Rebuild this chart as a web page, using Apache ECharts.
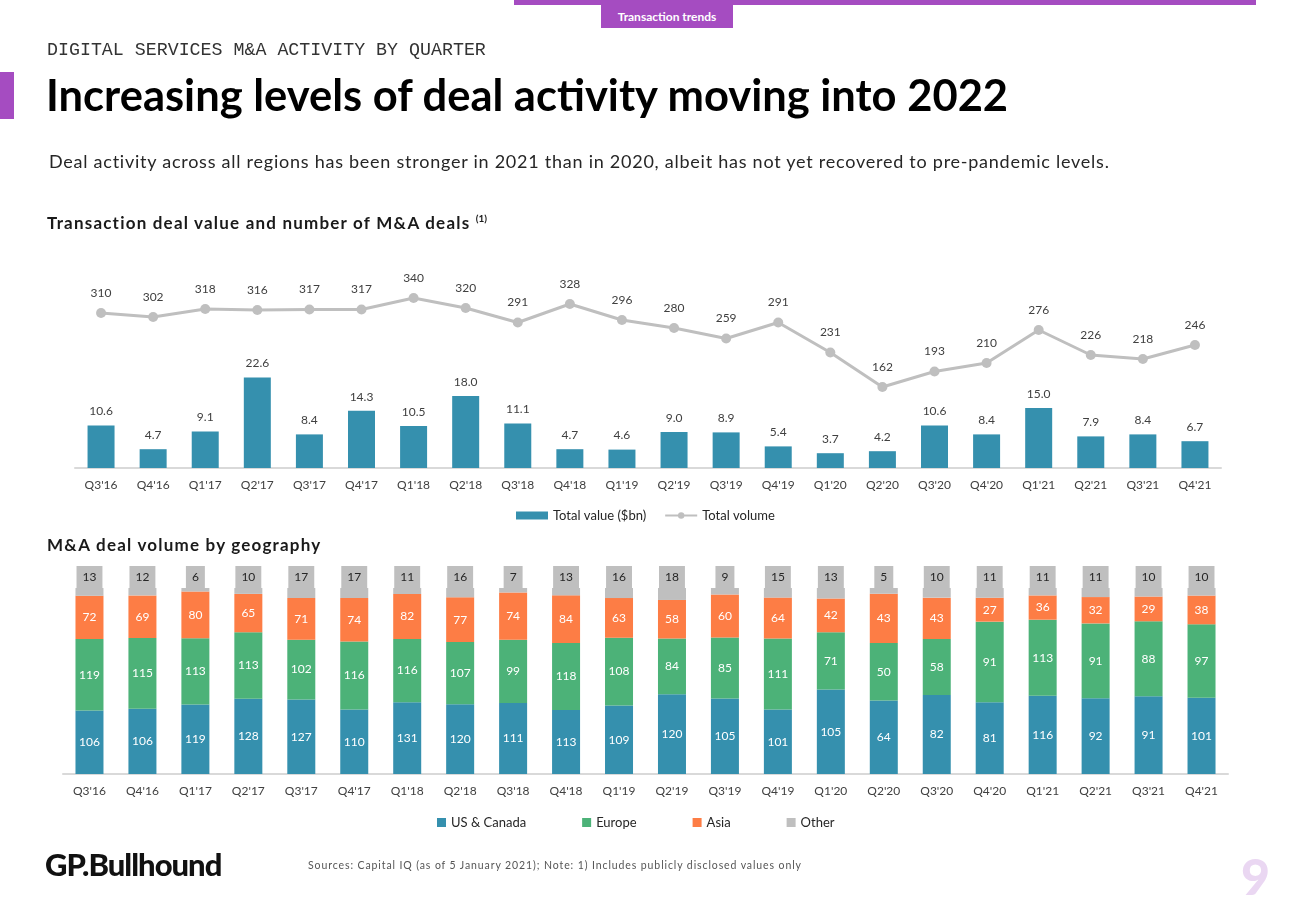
<!DOCTYPE html>
<html>
<head>
<meta charset="utf-8">
<script src="https://cdn.jsdelivr.net/npm/echarts@6/dist/echarts.min.js"></script>
<style>
  html, body { margin:0; padding:0; background:#fff; }
  #page { position:relative; width:1300px; height:900px; overflow:hidden; font-family: Lato, "Open Sans", sans-serif; }
  #chart { position:absolute; left:0; top:0; width:1300px; height:900px; }
  .abs { position:absolute; white-space:nowrap; }
</style>
</head>
<body>
<div id="page">
  <div id="chart"></div>
  <div class="abs" style="left:514px;top:0;width:742px;height:5px;background:#a54cc1;"></div>
  <div class="abs" style="left:601px;top:5px;width:132px;height:23px;background:#a54cc1;color:#fff;font-weight:bold;font-size:12px;line-height:23px;text-align:center;">Transaction trends</div>
  <div class="abs" style="left:47px;top:40px;font-family:'Liberation Mono',monospace;font-size:18.3px;color:#333;">DIGITAL SERVICES M&amp;A ACTIVITY BY QUARTER</div>
  <div class="abs" style="left:0;top:72px;width:14px;height:47px;background:#a54cc1;"></div>
  <div class="abs" style="left:46px;top:68px;font-size:43.5px;font-weight:bold;color:#000;">Increasing levels of deal activity moving into 2022</div>
  <div class="abs" style="left:49px;top:150px;font-size:18px;letter-spacing:0.75px;color:#262626;">Deal activity across all regions has been stronger in 2021 than in 2020, albeit has not yet recovered to pre-pandemic levels.</div>
  <div class="abs" style="left:47px;top:212px;font-size:17px;letter-spacing:1.2px;font-weight:bold;color:#1a1a1a;">Transaction deal value and number of M&amp;A deals <sup style="font-size:10px;letter-spacing:0;">(1)</sup></div>
  <div class="abs" style="left:47px;top:534px;font-size:17px;letter-spacing:1.2px;font-weight:bold;color:#1a1a1a;">M&amp;A deal volume by geography</div>
  <div class="abs" style="left:45px;top:845px;font-size:31px;font-weight:900;color:#111;letter-spacing:-1px;">GP.Bullhound</div>
  <div class="abs" style="left:308px;top:859px;font-size:10.5px;letter-spacing:0.9px;color:#555;">Sources: Capital IQ (as of 5 January 2021); Note: 1) Includes publicly disclosed values only</div>
  <div class="abs" style="left:1241px;top:846px;font-size:50px;font-weight:900;color:#ead7f2;">9</div>
</div>
<script>
const categories = ["Q3'16","Q4'16","Q1'17","Q2'17","Q3'17","Q4'17","Q1'18","Q2'18","Q3'18","Q4'18","Q1'19","Q2'19","Q3'19","Q4'19","Q1'20","Q2'20","Q3'20","Q4'20","Q1'21","Q2'21","Q3'21","Q4'21"];
const totalValue = [10.6,4.7,9.1,22.6,8.4,14.3,10.5,18.0,11.1,4.7,4.6,9.0,8.9,5.4,3.7,4.2,10.6,8.4,15.0,7.9,8.4,6.7];
const totalVolume = [310,302,318,316,317,317,340,320,291,328,296,280,259,291,231,162,193,210,276,226,218,246];
const usCanada = [106,106,119,128,127,110,131,120,111,113,109,120,105,101,105,64,82,81,116,92,91,101];
const europe = [119,115,113,113,102,116,116,107,99,118,108,84,85,111,71,50,58,91,113,91,88,97];
const asia = [72,69,80,65,71,74,82,77,74,84,63,58,60,64,42,43,43,27,36,32,29,38];
const other = [13,12,6,10,17,17,11,16,7,13,16,18,9,15,13,5,10,11,11,11,10,10];

const BLUE = '#3590ae', GREEN = '#4cb278', ORANGE = '#fd7d45', GRAY = '#bfbfbf';
const FONT = 'Lato, "Open Sans", sans-serif';

const totals = categories.map((c, i) => usCanada[i] + europe[i] + asia[i] + other[i]);
function pct(arr) { return arr.map((v, i) => ({ value: v / totals[i] * 100, raw: v })); }

function geoSeries(name, arr, color, isOther) {
  return {
    name: name, type: 'bar', stack: 'geo', xAxisIndex: 1, yAxisIndex: 2,
    barWidth: 28, itemStyle: { color: color },
    data: pct(arr),
    label: isOther ? {
      show: true, position: 'top', distance: 0,
      formatter: p => p.data.raw,
      color: '#262626', fontSize: 12, fontFamily: FONT,
      backgroundColor: GRAY, padding: [5, 6, 5, 6]
    } : {
      show: true, position: 'inside',
      formatter: p => p.data.raw,
      color: '#fff', fontSize: 12, fontFamily: FONT
    }
  };
}

const chart = echarts.init(document.getElementById('chart'), null, { renderer: 'canvas' });
const axisCommon = {
  type: 'category',
  axisLine: { lineStyle: { color: '#d9d9d9', width: 2 } },
  axisTick: { show: false },
  axisLabel: { color: '#404040', fontSize: 12, fontFamily: FONT, margin: 11 }
};
chart.setOption({
  animation: false,
  textStyle: { fontFamily: FONT },
  grid: [
    { left: 75, right: 79, top: 268, height: 200 },
    { left: 63, right: 72, top: 588, height: 186 }
  ],
  xAxis: [
    Object.assign({ gridIndex: 0, data: categories }, axisCommon),
    Object.assign({ gridIndex: 1, data: categories }, axisCommon)
  ],
  yAxis: [
    { type: 'value', gridIndex: 0, min: 0, max: 50, show: false },
    { type: 'value', gridIndex: 0, min: 0, max: 400, show: false },
    { type: 'value', gridIndex: 1, min: 0, max: 100, show: false }
  ],
  legend: [
    {
      top: 504, left: 511, itemGap: 18, itemWidth: 32, itemHeight: 8,
      textStyle: { color: '#262626', fontSize: 13, fontFamily: FONT },
      data: [{ name: 'Total value ($bn)', icon: 'rect' }, { name: 'Total volume' }]
    },
    {
      top: 811, left: 432, itemGap: 56, itemWidth: 9, itemHeight: 9,
      textStyle: { color: '#262626', fontSize: 13, fontFamily: FONT },
      data: [
        { name: 'US & Canada', icon: 'rect' },
        { name: 'Europe', icon: 'rect' },
        { name: 'Asia', icon: 'rect' },
        { name: 'Other', icon: 'rect' }
      ]
    }
  ],
  series: [
    {
      name: 'Total value ($bn)', type: 'bar', xAxisIndex: 0, yAxisIndex: 0,
      barWidth: 27, itemStyle: { color: BLUE }, data: totalValue,
      label: { show: true, position: 'top', distance: 8, color: '#404040', fontSize: 12, fontFamily: FONT,
               formatter: p => p.value.toFixed(1) }
    },
    {
      name: 'Total volume', type: 'line', xAxisIndex: 0, yAxisIndex: 1,
      data: totalVolume, symbol: 'circle', symbolSize: 10,
      lineStyle: { color: GRAY, width: 3 }, itemStyle: { color: GRAY },
      label: { show: true, position: 'top', distance: 9, color: '#404040', fontSize: 12, fontFamily: FONT }
    },
    geoSeries('US & Canada', usCanada, BLUE, false),
    geoSeries('Europe', europe, GREEN, false),
    geoSeries('Asia', asia, ORANGE, false),
    geoSeries('Other', other, GRAY, true)
  ]
});
</script>
</body>
</html>
